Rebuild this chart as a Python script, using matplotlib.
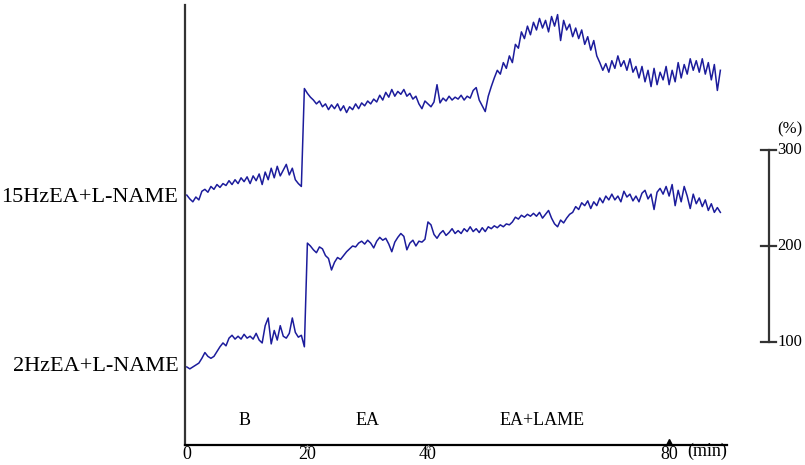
import numpy as np
import matplotlib
matplotlib.use("Agg")
import matplotlib.pyplot as plt

plt.rcParams['font.family'] = ['Liberation Serif', 'DejaVu Serif']

# sampling step of the read-off traces (min)
step = 0.5

# 15Hz EA + L-NAME trace, % of baseline, every 0.5 min from t=0
hz15 = [100, 96, 93, 98, 95, 104, 106, 103, 109, 106,
        111, 108, 112, 110, 115, 111, 116, 112, 118, 114,
        119, 112, 120, 115, 122, 111, 124, 116, 128, 118,
        130, 120, 126, 132, 121, 128, 116, 112, 109,
        211, 206, 202, 199, 195, 198, 192, 195, 189, 194,
        190, 195, 188, 193, 186, 192, 189, 195, 190, 196,
        193, 198, 195, 200, 197, 204, 199, 207, 202, 210,
        203, 208, 205, 210, 203, 206, 200, 203, 195, 190, 198,
        195, 192, 197, 215, 196, 201, 198, 203, 199, 202,
        200, 204, 199, 203, 201, 209, 212, 199, 193, 187,
        203, 213, 222, 230, 226, 238, 232, 245, 238, 257,
        253, 270, 263, 276, 267, 280, 272, 284, 274, 282,
        270, 286, 276, 288, 261, 282, 272, 278, 265, 274,
        263, 272, 257, 265, 251, 261, 245, 238, 230, 237,
        228, 240, 232, 245, 234, 240, 230, 242, 228, 234,
        222, 234, 218, 230, 213, 232, 215, 228, 220, 234,
        215, 230, 218, 238, 222, 236, 226, 242, 230, 240,
        228, 242, 226, 238, 220, 236, 209, 230]

# 2Hz EA + L-NAME trace, % of baseline, every 0.5 min from t=0
hz2 = [100, 98, 100, 102, 104, 109, 115, 111, 109, 111,
       116, 121, 125, 122, 130, 133, 129, 132, 129, 134,
       130, 132, 129, 135, 128, 125, 143, 151, 124, 138,
       128, 143, 132, 130, 135, 151, 136, 131, 133, 121,
       229, 226, 222, 219, 225, 223, 216, 213, 201, 209,
       214, 212, 216, 220, 223, 226, 225, 229, 231, 228,
       232, 229, 224, 231, 235, 232, 234, 228, 220, 230,
       235, 239, 236, 222, 229, 232, 226, 231, 230, 233,
       251, 248, 238, 234, 239, 242, 237, 240, 244, 239,
       242, 239, 244, 241, 246, 241, 244, 240, 245, 241,
       246, 244, 247, 245, 248, 246, 249, 248, 251, 256,
       254, 258, 256, 259, 257, 260, 257, 261, 255, 259,
       263, 255, 249, 246, 253, 250, 255, 259, 261, 267,
       264, 271, 268, 273, 265, 272, 268, 276, 271, 278,
       274, 280, 274, 278, 272, 283, 277, 280, 273, 278,
       272, 281, 284, 275, 280, 264, 282, 286, 280, 288,
       278, 290, 268, 284, 272, 288, 278, 265, 280, 270,
       276, 267, 274, 263, 270, 261, 266, 261]

trace_labels = ["15HzEA+L-NAME", "2HzEA+L-NAME"]
phase_labels = ["B", "EA", "EA+LAME"]
phase_pos = [9.5, 30, 59]
xtick_vals = [0, 20, 40, 80]
scale_vals = [100, 200, 300]

# vertical placement of each trace's 100% level on the shared % scale
offsets = [153, -26]

t15 = np.arange(len(hz15)) * step
t2 = np.arange(len(hz2)) * step

fig = plt.figure(figsize=(8.05, 4.65), dpi=100)
ax = fig.add_axes([185 / 805, 20 / 465, 542 / 805, 440 / 465])

col = '#1c1c9c'
ax.plot(t15, np.array(hz15) + offsets[0], color=col, lw=1.1)
ax.plot(t2, np.array(hz2) + offsets[1], color=col, lw=1.1)

ax.set_xlim(-0.3, 89.6)
ax.set_ylim(-7.3, 451)

for s in ['top', 'right']:
    ax.spines[s].set_visible(False)
ax.spines['left'].set_color('#333333')
ax.spines['left'].set_linewidth(1.6)
ax.spines['bottom'].set_linewidth(1.6)
ax.set_yticks([])
ax.set_xticks(xtick_vals)
ax.set_xticklabels([str(v) for v in xtick_vals], fontsize=13)
ax.tick_params(axis='x', length=0, pad=0.5)
ax.text(86.3, -13.5, "(min)", fontsize=13, ha='center', va='center')

# event markers under the time axis
ax.plot([20, 40], [-9.5, -9.5], linestyle='none', marker='^', ms=3.2,
        mfc='white', mec='#666666', mew=0.6, clip_on=False, zorder=5)
ax.plot([80], [-4.3], linestyle='none', marker='^', ms=4, color='black',
        clip_on=False)

# phase labels
for lab, xp in zip(phase_labels, phase_pos):
    ax.text(xp, 18.5, lab, fontsize=13, ha='center', va='center')

# trace names
ax.text(-1.4, 250, trace_labels[0], fontsize=16, ha='right', va='center')
ax.text(-1.4, 74, trace_labels[1], fontsize=16, ha='right', va='center')

# % scale bar on the right
xb = 96.5
ax.plot([xb, xb], [scale_vals[0], scale_vals[-1]], color='#333333', lw=1.6,
        clip_on=False)
for v in scale_vals:
    ax.plot([xb - 1.3, xb + 1.3], [v, v], color='#333333', lw=1.6,
            clip_on=False)
    ax.text(xb + 1.5, v, str(v), fontsize=12, ha='left', va='center')
ax.text(xb + 1.4, 321, "(%)", fontsize=12, ha='left', va='center')

fig.savefig('out.png', dpi=100)
